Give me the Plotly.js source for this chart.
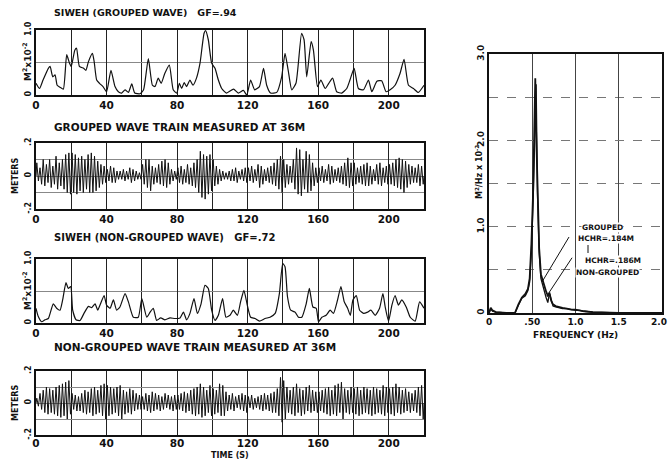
<!DOCTYPE html>
<html><head><meta charset="utf-8">
<script src="https://cdn.plot.ly/plotly-3.0.1.min.js"></script>
<style>html,body{margin:0;padding:0;background:#fff}#c{width:668px;height:462px}</style>
</head><body><div id="c"></div><script>
// ---- SIWEH, grouped wave (M^2 x 10^-2) ----
const siwehGroupedT = [0,2,4,7,8,9.5,10.8,12,13.6,15.5,17.4,19,20,22,23,24.6,27,28.3,29.7,32,33,34.4,36,38,40,42.5,44.8,46.7,48.6,50.5,52.4,54.3,56,59,61,63.7,66,67.5,69.3,71,73,75.6,77.8,79.8,81.3,82.6,84,85.4,87.3,89,91,93,95.3,96.2,97.7,99.6,101.5,103.4,105.3,108,112,114.7,117.6,119.5,121.7,124,126.7,129,130.8,133,136.5,139.3,141.2,143,145,147.4,150.6,152,153.5,156,157.3,159.6,161.5,164,166,168.2,170.5,173.4,176.2,178,180.4,182.8,185.7,188.5,190.4,193.3,196,198.5,200.8,203.6,206.4,208.7,211.2,214,216.8,220];
const siwehGroupedV = [0.18,0.1,0.23,0.41,0.44,0.28,0.31,0.15,0.12,0.09,0.62,0.49,0.44,0.69,0.72,0.44,0.41,0.38,0.51,0.64,0.51,0.23,0.18,0.13,0.05,0.38,0.13,0.05,0.03,0.08,0.04,0.17,0.03,0.02,0.08,0.56,0.15,0.13,0.26,0.18,0.33,0.46,0.08,0.03,0.18,0.1,0.19,0.13,0.23,0.15,0.26,0.49,0.95,0.99,0.85,0.49,0.41,0.23,0.1,0.03,0.09,0.03,0.07,0.0,0.23,0.08,0.13,0.41,0.15,0.03,0.04,0.28,0.64,0.38,0.08,0.18,0.95,0.85,0.28,0.82,0.69,0.13,0.23,0.1,0.18,0.26,0.05,0.03,0.1,0.23,0.41,0.1,0.08,0.23,0.05,0.21,0.22,0.05,0.08,0.15,0.33,0.55,0.15,0.1,0.04,0.15];

// ---- SIWEH, non-grouped wave ----
const siwehNonGroupedT = [0,1.3,3.2,5.1,7,9.8,11.7,13.6,15.1,17,18.3,19.7,20.8,22.7,25,27.2,29.7,31.6,33.5,35,36.3,38.6,40,42,43.9,45.7,47.6,50.5,52.4,55.2,58,60,62.8,64.7,66.5,68.4,70.7,73.1,76,78.8,81.7,83.6,85.4,87.3,89.6,91.5,93.6,95.8,97.7,99.6,101.5,103.4,105.8,107.7,110,111.9,114.2,116,117.9,119.8,121.7,124.2,126.7,129.9,132.7,135.6,138,139.9,141.2,142.6,144.4,146.9,148.8,150.7,153.2,155,157,158.9,160.2,162.1,164.5,166.8,168.7,171,172.9,174.8,176.7,178.2,179.7,181.6,183.5,185.7,188,189.9,192.3,194.8,196.7,198,199.9,201.8,203.6,205.5,207.4,209.9,212.2,215,217.5,220];
const siwehNonGroupedV = [0.23,0.1,0.02,0.05,0.07,0.3,0.23,0.2,0.36,0.63,0.54,0.57,0.2,0.05,0.04,0.15,0.26,0.24,0.3,0.2,0.28,0.43,0.28,0.23,0.36,0.2,0.25,0.46,0.33,0.09,0.09,0.38,0.09,0.17,0.23,0.04,0.08,0.05,0.08,0.07,0.08,0.17,0.05,0.15,0.38,0.15,0.3,0.59,0.54,0.2,0.04,0.12,0.38,0.09,0.12,0.2,0.12,0.33,0.51,0.28,0.09,0.07,0.03,0.07,0.09,0.15,0.46,0.93,0.88,0.41,0.2,0.17,0.09,0.09,0.3,0.54,0.25,0.23,0.02,0.09,0.12,0.2,0.15,0.36,0.57,0.33,0.23,0.12,0.36,0.43,0.2,0.15,0.17,0.2,0.12,0.23,0.46,0.25,0.03,0.28,0.43,0.28,0.36,0.25,0.09,0.03,0.33,0.23];

// ---- Wave trains: successive crest / trough elevations (m), one wave per period ----
const groupedCrests = [0.08,0.05,0.1,0.07,0.1,0.06,0.12,0.08,0.1,0.13,0.14, 0.14,0.13,0.11,0.12,0.1,0.13,0.14,0.12,0.09,0.07,0.06, 0.04,0.06,0.05,0.03,0.03,0.04,0.03,0.05,0.04,0.03,0.02, 0.07,0.1,0.1,0.06,0.05,0.07,0.09,0.1,0.08,0.04,0.03, 0.05,0.06,0.04,0.07,0.05,0.08,0.1,0.15,0.13,0.12,0.13, 0.1,0.06,0.04,0.03,0.02,0.03,0.04,0.05,0.03,0.04,0.05, 0.05,0.06,0.04,0.07,0.06,0.04,0.05,0.06,0.08,0.1,0.12, 0.1,0.07,0.06,0.1,0.17,0.16,0.1,0.15,0.13,0.08,0.05, 0.05,0.06,0.04,0.07,0.06,0.04,0.05,0.06,0.08,0.11,0.08, 0.08,0.05,0.06,0.07,0.08,0.06,0.04,0.07,0.08,0.05,0.06, 0.07,0.08,0.1,0.11,0.1,0.09,0.07,0.06,0.05,0.07,0.06];
const groupedTroughs = [-0.03,-0.05,-0.06,-0.04,-0.07,-0.05,-0.08,-0.06,-0.08,-0.1,-0.11, -0.1,-0.11,-0.09,-0.1,-0.08,-0.1,-0.1,-0.09,-0.07,-0.05,-0.04, -0.03,-0.04,-0.04,-0.02,-0.02,-0.03,-0.02,-0.04,-0.03,-0.02,-0.02, -0.05,-0.07,-0.09,-0.05,-0.04,-0.05,-0.06,-0.07,-0.05,-0.03,-0.02, -0.04,-0.05,-0.04,-0.05,-0.06,-0.07,-0.1,-0.13,-0.14,-0.11,-0.09, -0.06,-0.05,-0.03,-0.02,-0.02,-0.03,-0.03,-0.04,-0.02,-0.03,-0.04, -0.03,-0.04,-0.03,-0.07,-0.05,-0.03,-0.04,-0.05,-0.06,-0.08,-0.1, -0.07,-0.05,-0.04,-0.08,-0.11,-0.12,-0.08,-0.1,-0.09,-0.06,-0.04, -0.03,-0.04,-0.03,-0.05,-0.04,-0.03,-0.04,-0.05,-0.06,-0.07,-0.06, -0.05,-0.04,-0.05,-0.06,-0.06,-0.05,-0.03,-0.05,-0.06,-0.04,-0.05, -0.05,-0.06,-0.07,-0.08,-0.1,-0.07,-0.05,-0.04,-0.04,-0.06,-0.05];
const nonGroupedCrests = [0.03,0.06,0.08,0.1,0.09,0.08,0.1,0.11,0.12,0.13,0.14, 0.06,0.05,0.04,0.06,0.08,0.07,0.09,0.1,0.08,0.11,0.12, 0.11,0.1,0.09,0.1,0.11,0.08,0.07,0.09,0.08,0.06,0.05, 0.04,0.06,0.05,0.07,0.06,0.05,0.04,0.06,0.05,0.04,0.05, 0.05,0.06,0.07,0.06,0.08,0.09,0.1,0.12,0.1,0.08,0.11, 0.09,0.08,0.12,0.11,0.07,0.05,0.06,0.04,0.05,0.06,0.05, 0.04,0.05,0.03,0.04,0.05,0.06,0.05,0.06,0.07,0.09,0.16, 0.14,0.1,0.08,0.1,0.12,0.09,0.08,0.1,0.11,0.08,0.07, 0.07,0.08,0.09,0.1,0.08,0.11,0.12,0.13,0.09,0.08,0.1, 0.09,0.1,0.08,0.1,0.09,0.08,0.1,0.09,0.08,0.11,0.1, 0.09,0.1,0.12,0.1,0.08,0.09,0.07,0.06,0.08,0.1,0.11];
const nonGroupedTroughs = [-0.02,-0.04,-0.06,-0.07,-0.06,-0.07,-0.08,-0.09,-0.08,-0.1,-0.07, -0.04,-0.05,-0.05,-0.06,-0.07,-0.06,-0.08,-0.07,-0.06,-0.08,-0.1, -0.08,-0.07,-0.06,-0.08,-0.1,-0.07,-0.06,-0.07,-0.05,-0.04,-0.04, -0.04,-0.05,-0.06,-0.05,-0.04,-0.05,-0.04,-0.03,-0.04,-0.05,-0.04, -0.04,-0.05,-0.06,-0.05,-0.07,-0.08,-0.07,-0.09,-0.08,-0.06,-0.08, -0.07,-0.06,-0.08,-0.08,-0.05,-0.04,-0.05,-0.03,-0.04,-0.05,-0.06, -0.03,-0.04,-0.03,-0.04,-0.05,-0.04,-0.05,-0.06,-0.06,-0.08,-0.12, -0.1,-0.06,-0.07,-0.08,-0.06,-0.08,-0.07,-0.05,-0.06,-0.05,-0.06, -0.05,-0.06,-0.07,-0.08,-0.07,-0.08,-0.06,-0.1,-0.06,-0.07,-0.06, -0.07,-0.08,-0.07,-0.06,-0.07,-0.08,-0.07,-0.06,-0.07,-0.08,-0.06, -0.07,-0.08,-0.06,-0.07,-0.06,-0.05,-0.06,-0.05,-0.06,-0.08,-0.1];

// ---- Spectra (M^2/Hz x 10^-2) ----
const freq = [0,0.02,0.04,0.08,0.2,0.3,0.34,0.38,0.42,0.45,0.47,0.49,0.51,0.525,0.535,0.545,0.56,0.58,0.6,0.62,0.64,0.66,0.68,0.7,0.72,0.74,0.77,0.8,0.85,0.9,0.95,1.0,1.05,1.1,1.2,1.5,2.0];
const specGrouped = [0,0.06,0.03,0.01,0,0,0.1,0.18,0.22,0.28,0.4,0.8,1.4,2.2,2.72,2.1,1.5,0.75,0.45,0.38,0.3,0.25,0.2,0.22,0.14,0.1,0.08,0.07,0.06,0.05,0.04,0.04,0.03,0.02,0.01,0,0];
const specNonGrouped = [0,0.05,0.02,0.01,0,0,0.09,0.17,0.2,0.26,0.36,0.7,1.3,2.05,2.4,2.65,1.4,0.7,0.4,0.32,0.26,0.18,0.12,0.24,0.15,0.08,0.07,0.06,0.05,0.05,0.04,0.03,0.03,0.02,0.01,0,0];

const timeTicks = [0,40,80,120,160,200];
const timeLabels = ['0','40','80','120','160','200'];
const timeMinor = [20,60,100,140,180];
const freqTicks = [0,0.5,1,1.5];
const freqLabels = ['0','.50','1.0','1.5'];
const specTicks = [0,1,2,3];
const specLabels = ['0','1.0','2.0','3.0'];
const specMinor = [0.5,1.5,2.5];

// ---- build ----
function zig(crests, troughs){
  const n = crests.length, T = 220 / n;
  const x = [0], y = [0];
  for (let i = 0; i < n; i++){
    x.push((i + 0.25) * T); y.push(crests[i]);
    x.push((i + 0.75) * T); y.push(troughs[i]);
  }
  x.push(220); y.push(0);
  return {x, y};
}
const W = 668, H = 462;
const px = v => v / W, py = v => 1 - v / H;
const blk = {color:'#111', width:1};
const g1 = zig(groupedCrests, groupedTroughs);
const g2 = zig(nonGroupedCrests, nonGroupedTroughs);

const data = [
  {x: siwehGroupedT, y: siwehGroupedV, xaxis:'x', yaxis:'y', mode:'lines', line:{color:'#111', width:1.2, shape:'spline', smoothing:0.5}},
  {x: g1.x, y: g1.y, xaxis:'x2', yaxis:'y2', mode:'lines', line:blk},
  {x: siwehNonGroupedT, y: siwehNonGroupedV, xaxis:'x3', yaxis:'y3', mode:'lines', line:{color:'#111', width:1.2, shape:'spline', smoothing:0.5}},
  {x: g2.x, y: g2.y, xaxis:'x4', yaxis:'y4', mode:'lines', line:blk},
  {x: freq, y: specNonGrouped, xaxis:'x5', yaxis:'y5', mode:'lines', line:{color:'#111', width:1.3}},
  {x: freq, y: specGrouped, xaxis:'x5', yaxis:'y5', mode:'lines', line:{color:'#111', width:1.8}}
];

const baseAx = {showline:true, mirror:true, linecolor:'#111', linewidth:1.6, zeroline:false,
  ticks:'', fixedrange:true, showgrid:true};
function xAx(anchor){
  return Object.assign({}, baseAx, {domain:[px(36), px(424)], anchor, range:[0,220],
    tickmode:'array', tickvals:timeTicks, ticktext:timeLabels, gridcolor:'#222', gridwidth:1,
    minor:{tickmode:'array', tickvals:timeMinor, showgrid:true, gridcolor:'#222', gridwidth:1, ticks:''},
    tickfont:{size:10.5}});
}
function yAx(top, bottom, anchor, range, vals, txt, minorVals){
  return Object.assign({}, baseAx, {domain:[py(bottom), py(top)], anchor, range,
    tickmode:'array', tickvals:vals, ticktext:txt, gridcolor:'#888', gridwidth:1,
    minor:{tickmode:'array', tickvals:minorVals, showgrid:true, gridcolor:'#888', gridwidth:1, ticks:''},
    tickangle:-90, tickfont:{size:8}});
}
const layout = {
  width:W, height:H, margin:{l:0,r:0,t:0,b:0}, showlegend:false,
  paper_bgcolor:'#fff', plot_bgcolor:'#fff',
  font:{family:'DejaVu Sans', weight:'bold', color:'#111', size:10},
  xaxis: xAx('y'),
  yaxis: yAx(30,95,'x',[0,1.0],[0,1.0],['0','1.0'],[0.5]),
  xaxis2: xAx('y2'),
  yaxis2: yAx(143,209,'x2',[-0.2,0.2],[-0.2,0,0.2],['-.2','0','.2'],[-0.1,0.1]),
  xaxis3: xAx('y3'),
  yaxis3: yAx(259,323,'x3',[0,1.0],[0,1.0],['0','1.0'],[0.5]),
  xaxis4: Object.assign(xAx('y4'), {ticklabelstandoff:-2}),
  yaxis4: yAx(371,435,'x4',[-0.2,0.2],[-0.2,0,0.2],['-.2','0','.2'],[-0.1,0.1]),
  xaxis5: Object.assign({}, baseAx, {domain:[px(489), px(662)], anchor:'y5', range:[0,2],
    tickmode:'array', tickvals:freqTicks, ticktext:freqLabels,
    gridcolor:'#444', gridwidth:1, tickfont:{size:9}}),
  yaxis5: Object.assign({}, baseAx, {domain:[py(313), py(54)], anchor:'x5', range:[0,3],
    tickmode:'array', tickvals:specTicks, ticktext:specLabels,
    gridcolor:'#777', gridwidth:1, griddash:'dash', tickangle:-90, tickfont:{size:9},
    minor:{tickmode:'array', tickvals:specMinor, showgrid:true, gridcolor:'#777', gridwidth:1, griddash:'dash', ticks:''}}),
  annotations: [],
  shapes: [
    {type:'line', xref:'x5', yref:'y5', x0:0.613, y0:0.36, x1:0.925, y1:0.88, line:{color:'#111', width:1}},
    {type:'line', xref:'x5', yref:'y5', x0:0.67, y0:0.2, x1:0.96, y1:0.64, line:{color:'#111', width:1}},
    {type:'line', xref:'paper', yref:'paper', x0:px(588), y0:py(245), x1:px(588), y1:py(253), line:{color:'#111', width:1}}
  ]
};
function note(text, x, y, opts){
  layout.annotations.push(Object.assign({text, xref:'paper', yref:'paper', x:px(x), y:py(y),
    showarrow:false, xanchor:'center', yanchor:'middle'}, opts||{}));
}
note('SIWEH (GROUPED WAVE)   GF=.94', 52, 13, {xanchor:'left', font:{size:9.5}});
note('GROUPED WAVE TRAIN MEASURED AT 36M', 52, 127, {xanchor:'left', font:{size:10.5}});
note('SIWEH (NON-GROUPED WAVE)   GF=.72', 52, 237, {xanchor:'left', font:{size:10}});
note('NON-GROUPED WAVE TRAIN MEASURED AT 36M', 52, 347, {xanchor:'left', font:{size:10.5}});
note('M<sup>2</sup>x10<sup>-2</sup>', 27, 62, {textangle:-90, font:{size:9}});
note('METERS', 15, 176, {textangle:-90, font:{size:8}});
note('M<sup>2</sup>x10<sup>-2</sup>', 27, 291, {textangle:-90, font:{size:9}});
note('METERS', 15, 403, {textangle:-90, font:{size:8}});
note('TIME (S)', 230, 455, {font:{size:8}});
note('M<sup>2</sup>/Hz x 10<sup>-2</sup>', 479, 172, {textangle:-90, font:{size:8}});
note('FREQUENCY (Hz)', 575, 335, {font:{size:9}});
note('2.0', 659, 322, {font:{size:9}});
note('GROUPED', 602, 227, {font:{size:7.5}, bgcolor:'#fff', borderpad:0});
note('HCHR=.184M', 606, 239, {font:{size:7.5}, bgcolor:'#fff', borderpad:0});
note('HCHR=.186M', 613, 260, {font:{size:7.5}, bgcolor:'#fff', borderpad:0});
note('NON-GROUPED', 607, 272, {font:{size:7.5}, bgcolor:'#fff', borderpad:0});

Plotly.newPlot('c', data, layout, {staticPlot:true, displayModeBar:false});
</script></body></html>
